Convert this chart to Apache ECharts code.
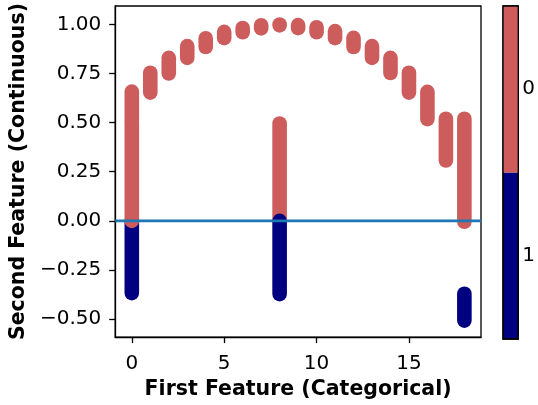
<!DOCTYPE html>
<html>
<head>
<meta charset="utf-8">
<script src="https://cdn.jsdelivr.net/npm/echarts@6/dist/echarts.min.js"></script>
<style>html,body{margin:0;padding:0;background:#fff;}#c{width:538px;height:405px;}</style>
</head>
<body>
<div id="c"></div>
<script>
// Segment data: category x, low y, high y, class (0 red, 1 navy); drawn in order
const segX     = [0,     0,    0,    1,     2,    3,    4,     5,    6,    7,    8,     9,     10,   11,   12,    13,   14,    15,    16,    17,    18,     8,    8,      18];
const segLow   = [-0.368, 0.0, 0.51, 0.653, 0.75, 0.83, 0.885, 0.93, 0.96, 0.98, 0.995, 0.981, 0.96, 0.93, 0.885, 0.83, 0.753, 0.653, 0.518, 0.307, -0.005, 0.0,  -0.373, -0.508];
const segHigh  = [0.0,    0.5, 0.658,0.754, 0.83, 0.89, 0.93,  0.962,0.982,0.996,1.0,   0.997, 0.986,0.966,0.932, 0.89, 0.83,  0.754, 0.657, 0.52,  0.52,   0.496, 0.0,   -0.371];
const segClass = [1,      0,   0,    0,     0,    0,    0,     0,    0,    0,    0,     0,     0,    0,    0,     0,    0,     0,     0,     0,     0,      0,    1,      1];

const xTicks = [0, 5, 10, 15];
const yTicks = [-0.5, -0.25, 0, 0.25, 0.5, 0.75, 1.0];
const cbLabels = ['1', '0'];
const hLineY = 0;

const classColors = ['#CD5C5C', '#000080'];
const xMin = -0.9, xMax = 18.9, yMin = -0.592, yMax = 1.094;

const segData = segX.map((x, i) => [x, segLow[i], segHigh[i], segClass[i]]);
const cbData = cbLabels.map((l, i) => [0, i, Number(l)]);
const fmtY = v => (v < 0 ? '\u2212' : '') + Math.abs(v).toFixed(2);
const FONT = 'DejaVu Sans';

const chart = echarts.init(document.getElementById('c'), null, {renderer: 'canvas'});
chart.setOption({
  animation: false,
  backgroundColor: '#fff',
  grid: [
    {left: 115, top: 6, width: 366, height: 332.5, show: true, borderColor: '#000', borderWidth: 1.3, backgroundColor: 'transparent'},
    {left: 503, top: 6, width: 18, height: 333, show: false}
  ],
  xAxis: [
    {
      type: 'value', gridIndex: 0, min: xMin, max: xMax,
      name: 'First Feature (Categorical)', nameLocation: 'middle', nameGap: 41,
      nameTextStyle: {fontFamily: FONT, fontWeight: 'bold', fontSize: 20.5, color: '#000'},
      splitLine: {show: false},
      axisLine: {show: true, onZero: false, lineStyle: {color: '#000', width: 1.3}},
      axisTick: {show: true, inside: false, length: 6, lineStyle: {color: '#000', width: 1.3}, customValues: xTicks},
      axisLabel: {show: true, margin: 17, fontFamily: FONT, fontSize: 20, color: '#000', customValues: xTicks, formatter: v => String(v)}
    },
    {type: 'value', gridIndex: 1, min: 0, max: 1, show: false}
  ],
  yAxis: [
    {
      type: 'value', gridIndex: 0, min: yMin, max: yMax,
      name: 'Second Feature (Continuous)', nameLocation: 'middle', nameGap: 81,
      nameTextStyle: {fontFamily: FONT, fontWeight: 'bold', fontSize: 20.5, color: '#000'},
      splitLine: {show: false},
      axisLine: {show: true, onZero: false, lineStyle: {color: '#000', width: 1.3}},
      axisTick: {show: true, inside: false, length: 6, lineStyle: {color: '#000', width: 1.3}, customValues: yTicks},
      axisLabel: {show: true, margin: 14, fontFamily: FONT, fontSize: 20, color: '#000', customValues: yTicks, formatter: fmtY}
    },
    {
      type: 'category', gridIndex: 1, data: cbLabels, position: 'right',
      axisLine: {show: false}, axisTick: {show: false}, splitLine: {show: false},
      axisLabel: {margin: 4, fontFamily: FONT, fontSize: 20, color: '#000'}
    }
  ],
  series: [
    {
      type: 'custom', xAxisIndex: 0, yAxisIndex: 0, data: segData, clip: false, z: 2,
      renderItem: function (params, api) {
        const x = api.value(0), lo = api.value(1), hi = api.value(2), c = api.value(3);
        const p1 = api.coord([x, lo]), p2 = api.coord([x, hi]);
        return {
          type: 'line',
          shape: {x1: p1[0], y1: p1[1], x2: p2[0], y2: p2[1]},
          style: {stroke: classColors[c], lineWidth: 14.6, lineCap: 'round', fill: null}
        };
      }
    },
    {
      type: 'line', xAxisIndex: 0, yAxisIndex: 0, z: 5, symbol: 'none', silent: true,
      data: [[xMin, hLineY], [xMax, hLineY]],
      lineStyle: {color: '#1f77b4', width: 2.8}
    },
    {
      type: 'custom', xAxisIndex: 1, yAxisIndex: 1, data: cbData, silent: true, z: 2,
      renderItem: function (params, api) {
        const cs = params.coordSys;
        const p = api.coord([0, api.value(1)]);
        const h = api.size([0, 1])[1];
        return {
          type: 'group',
          children: [
            {type: 'rect', shape: {x: cs.x, y: p[1] - h / 2, width: cs.width, height: h},
             style: {fill: classColors[api.value(2)], stroke: null}},
            {type: 'rect', shape: {x: cs.x, y: cs.y, width: cs.width, height: cs.height},
             style: {fill: null, stroke: '#000', lineWidth: 1.3}}
          ]
        };
      }
    }
  ]
});
</script>
</body>
</html>
